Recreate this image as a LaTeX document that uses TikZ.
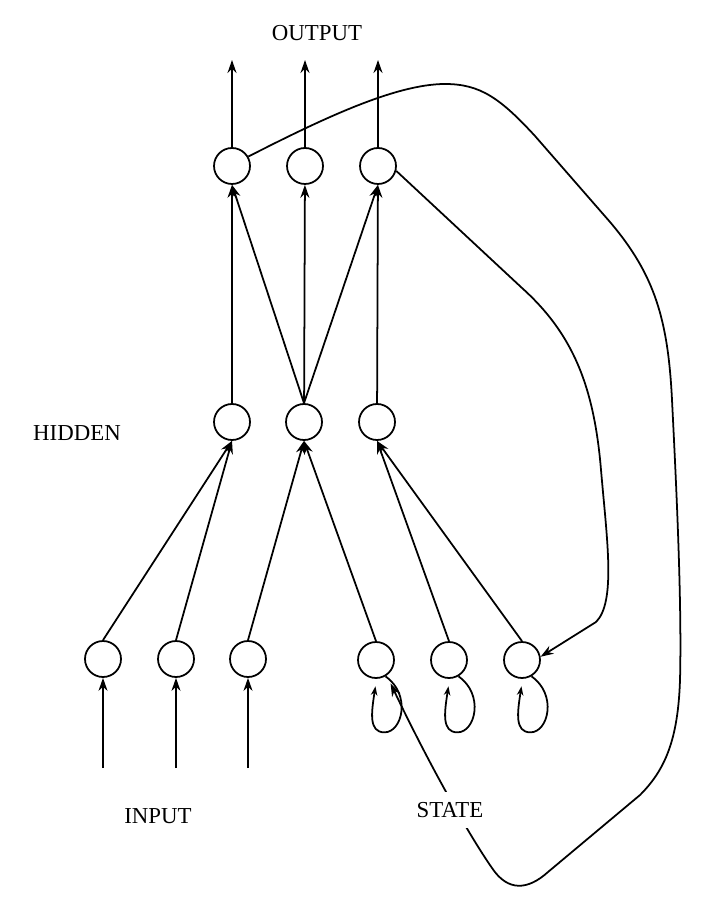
\documentclass[tikz,border=0pt]{standalone}
\usepackage{fontspec}
\setmainfont{Liberation Serif}
\usetikzlibrary{arrows.meta}

\begin{document}
\begin{tikzpicture}[x=0.02cm,y=-0.02cm,line width=1pt,
    unit/.style={circle,draw,minimum size=0.72cm,inner sep=0pt},
    link/.style={-{Stealth[length=2.6mm,width=1.8mm]}},
    selfloop/.style={-{Stealth[length=1.8mm,width=1.3mm,open]}},
    layer/.style={font=\fontsize{13}{15}\selectfont,inner sep=0pt}]

  \useasboundingbox (0,0) rectangle (700,901);

  % output layer
  \node[unit] (o1) at (232,166) {};
  \node[unit] (o2) at (305,166) {};
  \node[unit] (o3) at (378,166) {};
  \coordinate (out1) at (232,60);
  \coordinate (out2) at (305,60);
  \coordinate (out3) at (378,60);

  % hidden layer
  \node[unit] (h1) at (232,422) {};
  \node[unit] (h2) at (304,422) {};
  \node[unit] (h3) at (377,422) {};

  % input and state units
  \node[unit] (i1) at (103,659) {};
  \node[unit] (i2) at (176,659) {};
  \node[unit] (i3) at (248,659) {};
  \node[unit] (s1) at (376,660) {};
  \node[unit] (s2) at (449,660) {};
  \node[unit] (s3) at (522,660) {};
  \coordinate (in1) at (103,768);
  \coordinate (in2) at (176,768);
  \coordinate (in3) at (248,768);

  \node[layer] (outlab) at (317,33) {OUTPUT};
  \node[layer] (hidlab) at (77,433) {HIDDEN};
  \node[layer] (inlab) at (158,816) {INPUT};

  \draw[link] (o1) -- (out1);
  \draw[link] (o2) -- (out2);
  \draw[link] (o3) -- (out3);

  \draw[link] (h1) -- (o1);
  \draw[link] (h2.north) -- (o1.south);
  \draw[link] (h2) -- (o2);
  \draw[link] (h2.north) -- (o3.south);
  \draw[link] (h3) -- (o3);

  \draw[link] (i1.north) -- (h1.south);
  \draw[link] (i2.north) -- (h1.south);
  \draw[link] (i3.north) -- (h2.south);
  \draw[link] (s1.north) -- (h2.south);
  \draw[link] (s2.north) -- (h3.south);
  \draw[link] (s3.north) -- (h3.south);

  \draw[link] (in1) -- (i1);
  \draw[link] (in2) -- (i2);
  \draw[link] (in3) -- (i3);

  % self loops of the state units
  \draw[selfloop] (s1.-60) .. controls +(26,18) and +(18,0) .. ++(-1,56)
    .. controls +(-16,0) and +(-4,26) .. ++(-9,-46);
  \draw[selfloop] (s2.-60) .. controls +(26,18) and +(18,0) .. ++(-1,56)
    .. controls +(-16,0) and +(-4,26) .. ++(-9,-46);
  \draw[selfloop] (s3.-60) .. controls +(26,18) and +(18,0) .. ++(-1,56)
    .. controls +(-16,0) and +(-4,26) .. ++(-9,-46);

  % feedback from output units to state units
  \draw[link] (o3.-15) -- (522,288) .. controls (572,333) and (594,385) .. (601,470)
    .. controls (607,540) and (616,602) .. (596,622) -- (s3.10);
  \draw[link,shorten >=5pt] (o1.30) .. controls (320,120) and (395,84) .. (445,84)
    .. controls (480,84) and (500,98) .. (535,136) -- (610,222)
    .. controls (655,275) and (668,320) .. (672,400)
    .. controls (676,480) and (682,600) .. (680,680)
    .. controls (678,740) and (665,770) .. (640,795) -- (548,872)
    .. controls (528,890) and (508,892) .. (492,868)
    .. controls (467,832) and (427,760) .. (s1.-55);

  \node[layer,fill=white,inner xsep=2pt,inner ysep=6pt] (stlab) at (450,810) {STATE};

\end{tikzpicture}
\end{document}
